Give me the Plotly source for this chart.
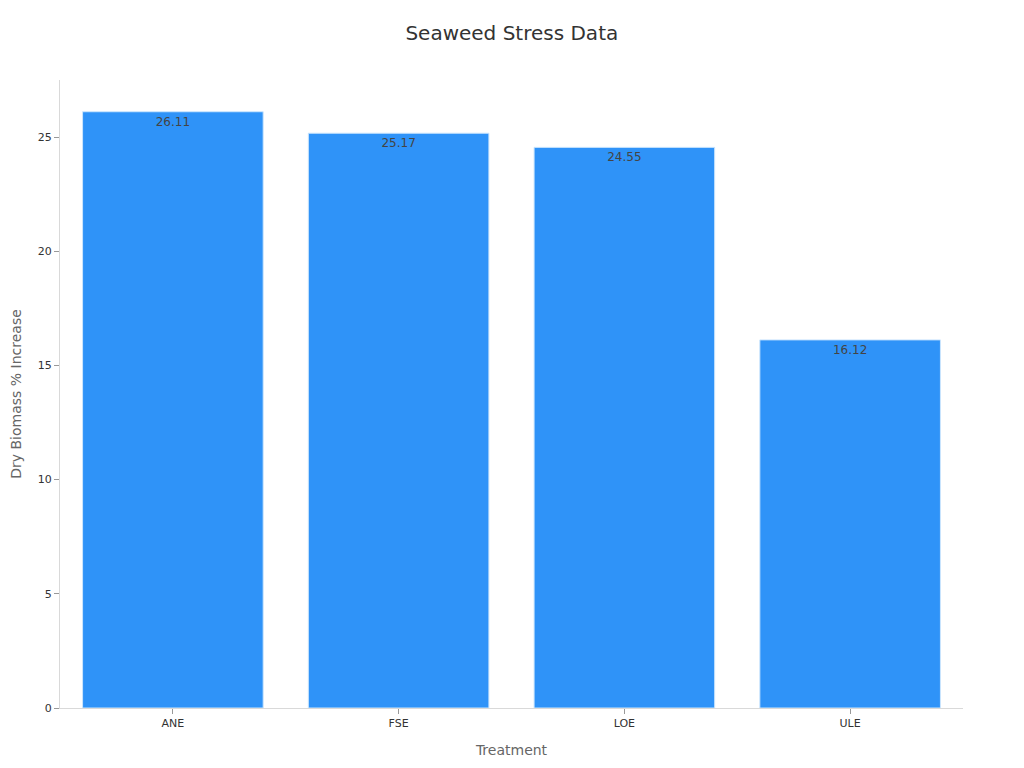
import plotly.graph_objects as go

categories = ["ANE", "FSE", "LOE", "ULE"]
values = [26.11, 25.17, 24.55, 16.12]
value_labels = ["26.11", "25.17", "24.55", "16.12"]

fig = go.Figure(go.Bar(
    x=categories, y=values,
    text=value_labels, textposition="inside", insidetextanchor="end",
    textfont=dict(color="#444444", size=12),
    marker=dict(color="#2F93F8", line=dict(color="#CDE6FD", width=1)),
))

fig.update_layout(
    width=1024, height=768,
    paper_bgcolor="white", plot_bgcolor="white",
    font=dict(family="DejaVu Sans, Noto Sans, sans-serif", color="#333333"),
    title=dict(text="Seaweed Stress Data", x=0.492, xanchor="center", y=0.967, yanchor="middle",
               font=dict(size=20, color="#333333")),
    margin=dict(l=52, r=69, t=72, b=68),
    bargap=0.2,
    showlegend=False,
    xaxis=dict(title=dict(text="Treatment", font=dict(size=14, color="#666666")),
               showline=True, linecolor="#D9D9D9", linewidth=1,
               ticks="outside", tickcolor="#999999", ticklen=5,
               tickfont=dict(size=11, color="#333333")),
    yaxis=dict(title=dict(text="Dry Biomass % Increase", font=dict(size=14, color="#666666")),
               automargin=False,
               range=[0, 27.5], dtick=5, showgrid=False, zeroline=False,
               showline=True, linecolor="#D9D9D9", linewidth=1,
               ticks="outside", tickcolor="#999999", ticklen=5,
               tickfont=dict(size=11, color="#333333")),
)

fig.write_html("out.html")
